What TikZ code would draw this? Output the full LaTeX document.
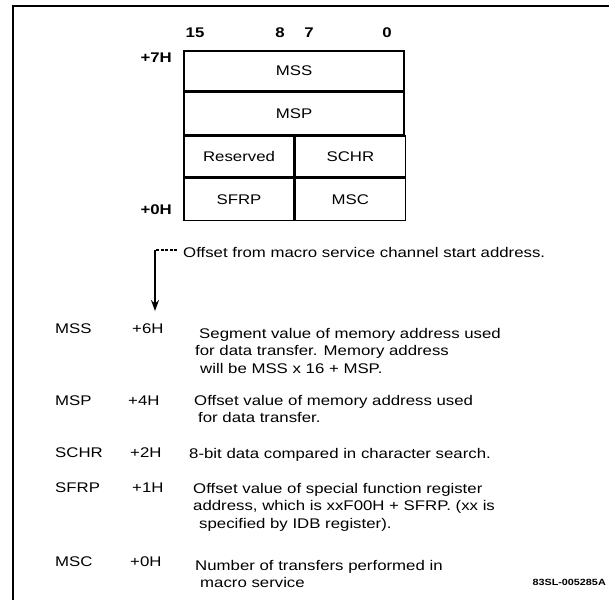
\documentclass[tikz,border=0pt]{standalone}
\usepackage{fontspec}
\setmainfont{Liberation Sans}[FakeStretch=1.2]
\usepackage{tikz}
\usetikzlibrary{positioning, arrows.meta}
\newcommand{\desclines}[1]{\begin{tabular}[t]{@{}l@{}}#1\end{tabular}}

\begin{document}
\begin{tikzpicture}[
  x=1pt, y=-1pt,
  font=\fontsize{14}{17.5}\selectfont,
  frame/.style={line width=1.8pt, black},
  cell/.style={draw, line width=1.4pt, inner sep=0pt, minimum height=41pt},
  wide/.style={cell, minimum width=220pt},
  half/.style={cell, minimum width=110pt},
  bitno/.style={font=\fontsize{14}{16}\selectfont\bfseries, inner sep=0pt},
  offtag/.style={font=\fontsize{14}{16}\selectfont\bfseries, inner sep=0pt, anchor=east},
  fldname/.style={anchor=base west, inner sep=0pt},
  fldtext/.style={anchor=base west, inner sep=0pt},
  arr/.style={-{Stealth[length=11pt, width=8pt]}, line width=1.4pt}
]
  \useasboundingbox (0,0) rectangle (609,600);
  \draw[frame] (609,6) -- (13,6) -- (13,600);

  \node[bitno] (b15) at (195,33) {15};
  \node[bitno] (b8) at (280,33) {8};
  \node[bitno] (b7) at (309,33) {7};
  \node[bitno] (b0) at (387,33) {0};

  \node[wide, minimum height=40pt] (mss) at (294,71) {MSS};
  \node[wide, below=0pt of mss, minimum height=42pt] (msp) {MSP};
  \node[half, below=0pt of msp.south west, anchor=north west] (res) {Reserved};
  \node[half, right=0pt of res] (schr) {SCHR};
  \node[half, below=0pt of res, minimum height=42pt] (sfrp) {SFRP};
  \node[half, right=0pt of sfrp, minimum height=42pt] (msc) {MSC};

  \node[offtag] (top) at (172,58) {+7H};
  \node[offtag] (bot) at (172,210) {+0H};

  \node[anchor=west, inner sep=0pt] (note) at (183,252) {Offset from macro service channel start address.};
  \coordinate (corner) at (155,250);
  \coordinate (tip) at (155,311);
  \draw[line width=1.4pt, dash pattern=on 3pt off 1.5pt] ([xshift=-6pt]note.west |- corner) -- (corner);
  \draw[arr] (corner) -- (tip);

  \node[fldname] (n1) at (55,333) {MSS};
  \node[fldname] (o1) at (132,333) {+6H};
  \node[fldtext] (t1) at (195,338) {\desclines{\hspace*{4pt}Segment value of memory address used\\for data transfer. Memory address\\\hspace*{5pt}will be MSS x 16 + MSP.}};

  \node[fldname] (n2) at (55,405) {MSP};
  \node[fldname] (o2) at (128,405) {+4H};
  \node[fldtext] (t2) at (194,405) {\desclines{Offset value of memory address used\\\hspace*{4pt}for data transfer.}};

  \node[fldname] (n3) at (55,457) {SCHR};
  \node[fldname] (o3) at (130,457) {+2H};
  \node[fldtext] (t3) at (189,458) {8-bit data compared in character search.};

  \node[fldname] (n4) at (55,492) {SFRP};
  \node[fldname] (o4) at (132,492) {+1H};
  \node[fldtext] (t4) at (193,493) {\desclines{Offset value of special function register\\address, which is xxF00H + SFRP. (xx is\\\hspace*{6pt}specified by IDB register).}};

  \node[fldname] (n5) at (55,566) {MSC};
  \node[fldname] (o5) at (130,566) {+0H};
  \node[fldtext] (t5) at (195,570) {\desclines{Number of transfers performed in\\\hspace*{5pt}macro service}};

  \node[anchor=east, inner sep=0pt, font=\fontsize{9}{10}\selectfont\bfseries] (code) at (606,582) {83SL-005285A};
\end{tikzpicture}
\end{document}
